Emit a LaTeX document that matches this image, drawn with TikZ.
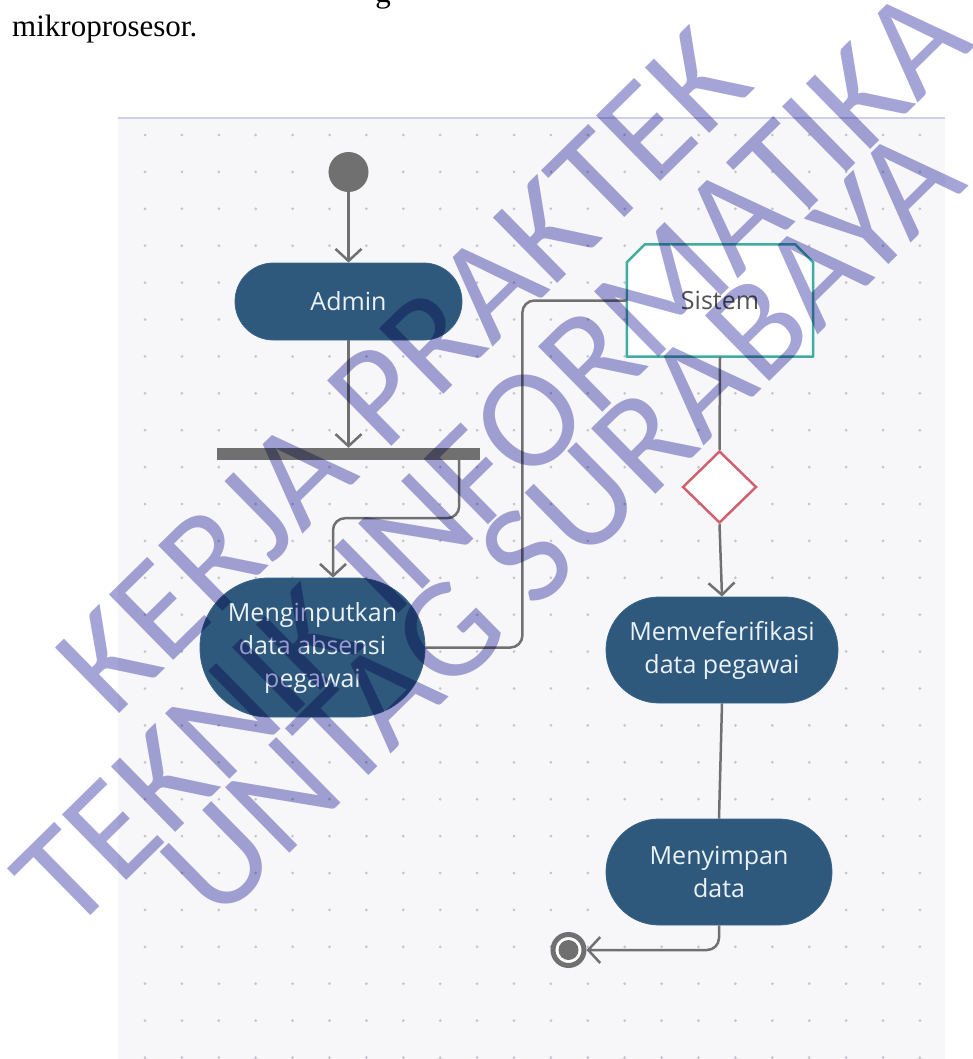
\documentclass[tikz,border=0pt]{standalone}
\usepackage{fontspec}
\setmainfont{Liberation Serif}
\newfontfamily\uifont{Open Sans}
\newfontfamily\wmfont{Carlito}
\usetikzlibrary{arrows.meta,shapes.geometric}

\definecolor{flowgray}{RGB}{112,112,112}
\definecolor{actblue}{RGB}{46,88,124}
\definecolor{actedge}{RGB}{58,100,136}
\definecolor{acttext}{RGB}{234,241,247}
\definecolor{panelbg}{RGB}{247,247,250}
\definecolor{paneltop}{RGB}{206,206,236}
\definecolor{gridcol}{RGB}{196,196,204}
\definecolor{sysedge}{RGB}{64,172,162}
\definecolor{systext}{RGB}{82,82,82}
\definecolor{decred}{RGB}{206,98,112}
\definecolor{wmcol}{RGB}{164,164,214}

\tikzset{
  act/.style={rectangle, fill=actblue, draw=actedge, line width=0.8pt,
    text=acttext, font=\uifont\fontsize{25}{33}\selectfont,
    align=center, inner sep=0pt},
  flow/.style={draw=flowgray, line width=2.5pt, rounded corners=12pt},
  arr/.style={-{Straight Barb[length=12pt,width=26pt]}},
  wm/.style={font=\wmfont\fontsize{143}{143}\selectfont, text=wmcol,
    anchor=base west, rotate=44.5, inner sep=0pt}
}

\begin{document}
\begin{tikzpicture}[x=1pt,y=-1pt]
\useasboundingbox (0,0) rectangle (972,1059);

% running text above the figure
\node[anchor=base, font=\fontsize{31}{36}\selectfont, inner sep=0pt] (gtail) at (383,3) {g};
\node[anchor=base west, font=\fontsize{31}{36}\selectfont, inner sep=0pt] (caption) at (12,37) {mikroprosesor.};

% canvas with dot grid
\fill[panelbg] (118,118) rectangle (945,1059);
\foreach \i in {0,...,21}
  \foreach \j in {0,...,25}
    \fill[gridcol] ({145+\i*36.9},{135+\j*36.9}) circle (1.5);
\draw[paneltop, line width=2.5pt] (118,118) -- (945,118);

% activity nodes
\node[circle, fill=flowgray, minimum size=40pt, inner sep=0pt] (start) at (348.5,172) {};
\node[act, minimum width=227pt, minimum height=77pt, rounded corners=38.5pt] (admin) at (348.5,301.5) {Admin};
\node[rectangle, fill=flowgray, minimum width=263pt, minimum height=12pt, inner sep=0pt] (fork) at (348.5,454) {};
\node[act, minimum width=225pt, minimum height=139pt, rounded corners=69pt] (input) at (312.5,647.5) {Menginputkan\\data absensi\\pegawai};

\node[rectangle, minimum width=186pt, minimum height=112pt, inner sep=0pt] (sistem) at (720,300.5) {};
\filldraw[fill=white, draw=sysedge, line width=2.5pt, line join=round]
  (sistem.south west) -- ([yshift=-18pt]sistem.north west) -- ([xshift=18pt]sistem.north west)
  -- ([xshift=-18pt]sistem.north east) -- ([yshift=-18pt]sistem.north east) -- (sistem.south east) -- cycle;
\node[font=\uifont\fontsize{25}{33}\selectfont, text=systext, inner sep=0pt] (sistemlabel) at (sistem.center) {Sistem};

\node[diamond, draw=decred, fill=white, line width=2.5pt, minimum width=74pt, minimum height=72pt, inner sep=0pt] (decide) at (719.5,487) {};
\node[act, minimum width=232pt, minimum height=106pt, rounded corners=53pt] (verify) at (722,650) {Memveferifikasi\\data pegawai};
\node[act, minimum width=226pt, minimum height=106pt, rounded corners=53pt] (store) at (719,872) {Menyimpan\\data};
\node[circle, draw=flowgray, fill=white, line width=5pt, minimum size=31pt, inner sep=0pt] (finish) at (568.5,950) {};
\fill[flowgray] (finish.center) circle (10);

% control flow
\draw[flow, arr] (start) -- (admin);
\draw[flow, arr] (admin) -- (fork);
\draw[flow, arr] ([xshift=-21pt]fork.south east) -- ++(0,58) -| ([xshift=20.5pt]input.north);
\draw[flow] (input.east) -- ++(97,0) |- (sistem.west);
\draw[flow] (sistem.south) -- (decide.north);
\draw[flow, arr] (decide.south) -- (verify.north);
\draw[flow] (verify.south) -- (store.north);
\draw[flow, arr] (store.south) |- (finish.east);

% watermark, multiplied over the drawing
\begin{scope}[blend mode=multiply]
\node[wm] (wmA) at (113,720) {KERJA PRAKTEK};
\node[wm] (wmB) at (70,936) {TEKNIK INFORMATIKA};
\node[wm] (wmC) at (217,925) {UNTAG SURABAYA};
\end{scope}
\end{tikzpicture}
\end{document}
